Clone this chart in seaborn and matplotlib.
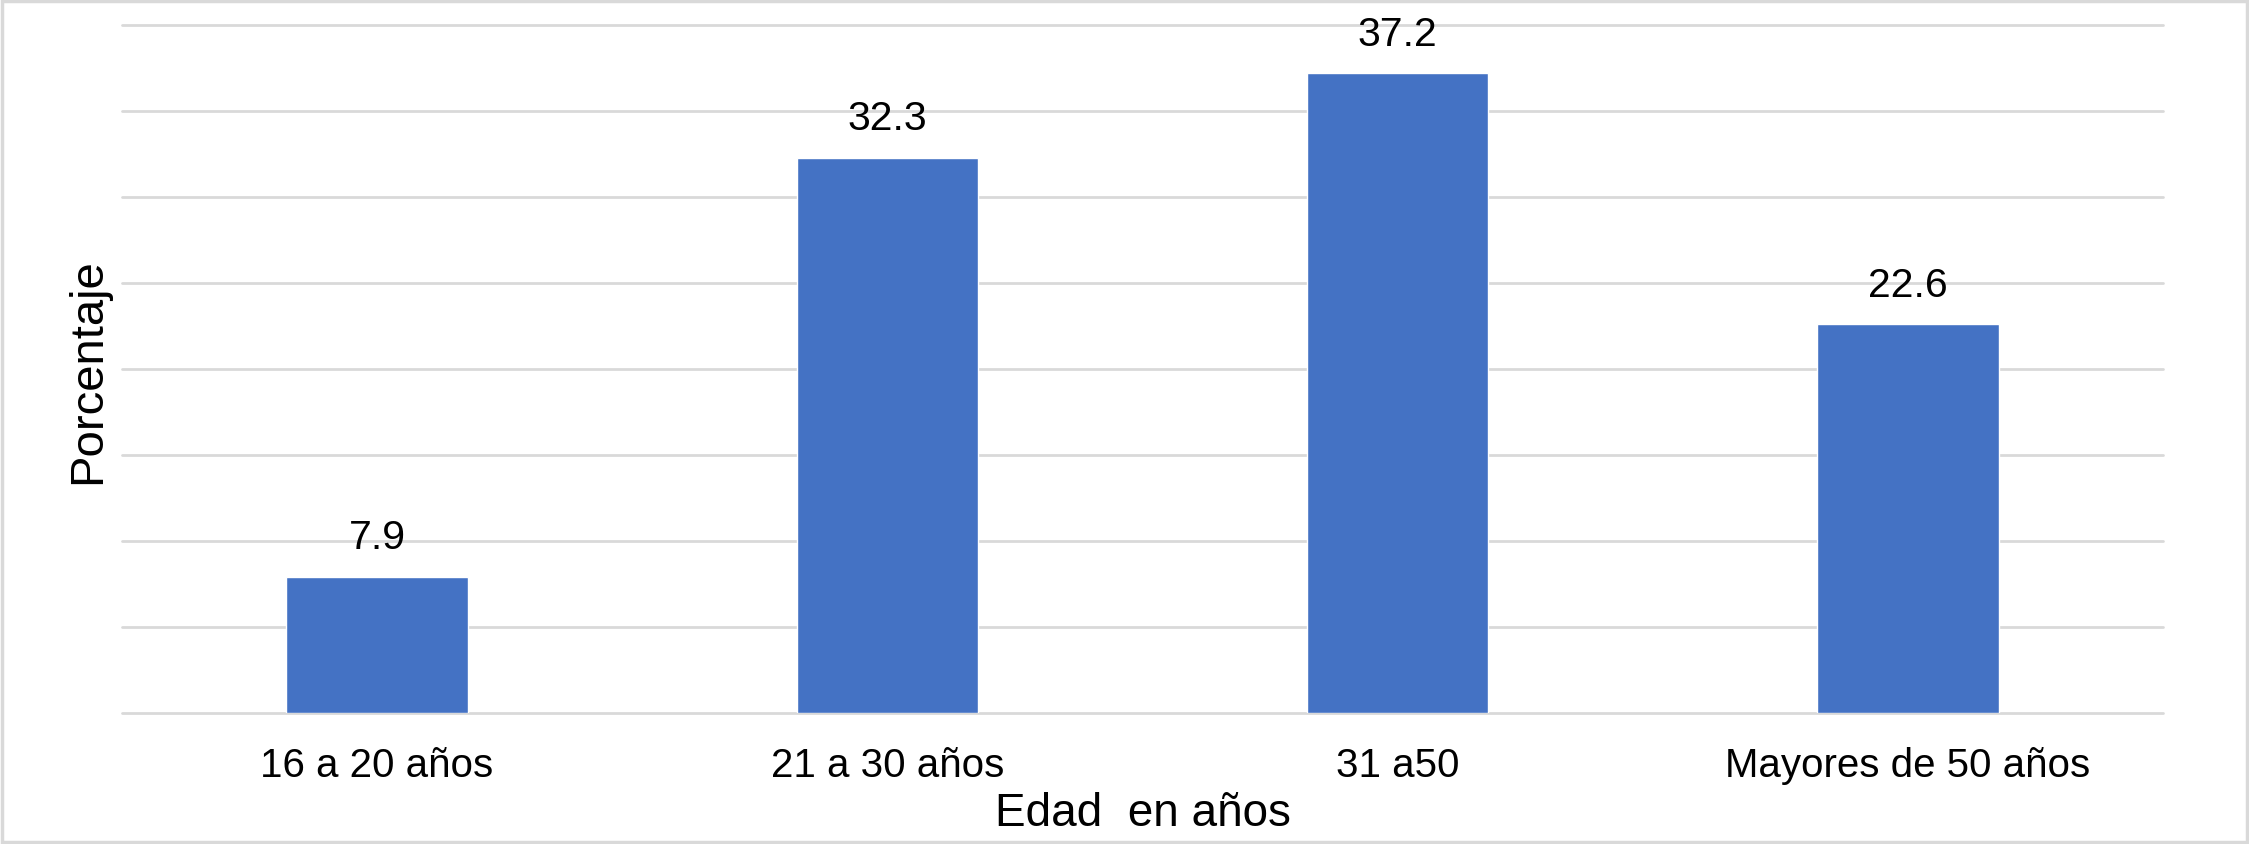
import numpy as np
import pandas as pd
import matplotlib
matplotlib.use('Agg')
import matplotlib.pyplot as plt
import seaborn as sns
from matplotlib.patches import Rectangle

# data
categorias = ['16 a 20 años', '21 a 30 años', '31 a50', 'Mayores de 50 años']
porcentajes = [7.9, 32.3, 37.2, 22.6]

df = pd.DataFrame({'Edad': categorias, 'Porcentaje': porcentajes})

sns.set_style('white')
plt.rcParams['font.family'] = ['Liberation Sans', 'DejaVu Sans']
plt.rcParams['text.color'] = 'black'
plt.rcParams['axes.labelcolor'] = 'black'
plt.rcParams['xtick.color'] = 'black'

fig = plt.figure(figsize=(22.49, 8.45), dpi=100)
ax = fig.add_axes([0.0542, 0.155, 0.9076, 0.814])

sns.barplot(data=df, x='Edad', y='Porcentaje', color='#4472C4',
            saturation=1, width=0.355, ax=ax, zorder=3)

ax.set_ylim(0, 40)
ax.set_yticks(np.arange(0, 41, 5))
ax.set_yticklabels([])
ax.tick_params(axis='y', length=0)
ax.tick_params(axis='x', length=0, labelsize=29, pad=24)
ax.set_xlim(-0.5, len(categorias) - 0.5)

ax.set_axisbelow(True)
ax.yaxis.grid(True, color='#D9D9D9', linewidth=2)
for ln in ax.get_ygridlines():
    ln.set_clip_on(False)
for s in ax.spines.values():
    s.set_visible(False)

# value labels above bars
for cont in ax.containers:
    ax.bar_label(cont, labels=[f'{v:.1f}' for v in porcentajes],
                 padding=15, fontsize=29.5)

ax.set_xlabel('Edad  en años', fontsize=33, labelpad=5)
ax.set_ylabel('')
# y label placed by hand, centred on the plot height
fig.text(88 / 2249, 1 - 371 / 845, 'Porcentaje', fontsize=34, rotation=90,
         ha='center', va='center')

# light grey frame round the whole chart
fig.patches.append(Rectangle((0.001, 0.002), 0.998, 0.996, transform=fig.transFigure,
                             fill=False, edgecolor='#D9D9D9', linewidth=2.5))

fig.savefig('out.png', dpi=100, facecolor='white')
